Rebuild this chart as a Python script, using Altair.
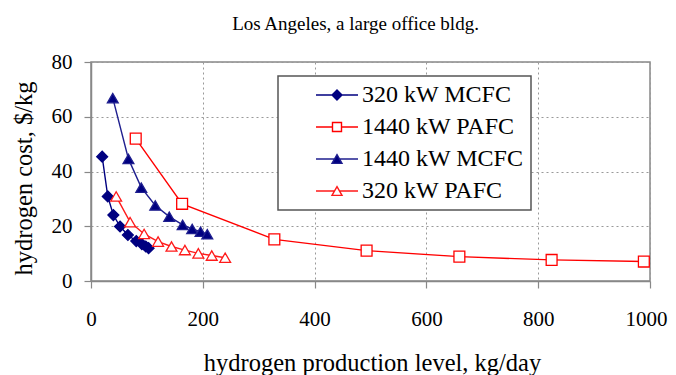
import altair as alt
import pandas as pd

series_names = ["320 kW MCFC", "1440 kW PAFC", "1440 kW MCFC", "320 kW PAFC"]

mcfc320_x = [20, 30, 40, 52, 66, 81, 91, 98, 103]
mcfc320_y = [45.4, 30.9, 24.1, 19.9, 16.8, 14.6, 13.5, 12.6, 12.0]

pafc1440_x = [80, 163, 328, 493, 659, 824, 989]
pafc1440_y = [52.0, 28.2, 15.2, 11.1, 8.9, 7.7, 7.1]

mcfc1440_x = [39, 67, 90, 115, 140, 164, 181, 196, 208]
mcfc1440_y = [66.8, 44.6, 34.1, 27.6, 23.5, 20.5, 19.0, 18.0, 17.1]

pafc320_x = [45, 70, 95, 120, 144, 168, 192, 216, 240]
pafc320_y = [30.9, 21.5, 17.2, 14.4, 12.6, 11.3, 10.1, 9.3, 8.5]

x_ticks = [0, 200, 400, 600, 800, 1000]
y_ticks = [0, 20, 40, 60, 80]

line_colors = ["#000080", "#ff0000", "#1f1f8f", "#ff1a1a"]
fill_colors = ["#000080", "#ffffff", "#000080", "#ffffff"]
shapes = ["diamond", "square", "triangle-up", "triangle-up"]
# legend symbols: a short line with the marker in its middle (unit = 10 px)
legend_paths = [
    "M1.9,0H3.5M4,-0.5L4.5,0L4,0.5L3.5,0ZM4.5,0H6.1",
    "M1.9,0H3.55M3.55,-0.45H4.45V0.45H3.55ZM4.45,0H6.1",
    "M1.9,0H3.75M4,-0.44L4.5,0.44H3.5ZM4.25,0H6.1",
    "M1.9,0H3.75M4,-0.44L4.5,0.44H3.5ZM4.25,0H6.1",
]

rows = []
for name, xs, ys in [
    (series_names[0], mcfc320_x, mcfc320_y),
    (series_names[1], pafc1440_x, pafc1440_y),
    (series_names[2], mcfc1440_x, mcfc1440_y),
    (series_names[3], pafc320_x, pafc320_y),
]:
    for xv, yv in zip(xs, ys):
        rows.append({"series": name, "lg": name, "x": xv, "y": yv})
df = pd.DataFrame(rows)

FONT = "Liberation Serif"

x_enc = alt.X(
    "x:Q",
    scale=alt.Scale(domain=[0, 1000], nice=False),
    axis=alt.Axis(
        values=x_ticks,
        format="d",
        labelFlush=False,
        labelOffset={"condition": {"test": "datum.value === 1000", "value": -4}, "value": 0},
        title="hydrogen production level, kg/day",
        titleX=281,
        titleY=89,
        titleBaseline="alphabetic",
        labelPadding=20,
    ),
)
y_enc = alt.Y(
    "y:Q",
    scale=alt.Scale(domain=[0, 80], nice=False),
    axis=alt.Axis(
        values=y_ticks,
        title="hydrogen cost, $/kg",
        titleX=-67,
        titleY=116,
        titleBaseline="middle",
        labelPadding=12,
        labelFlush=False,
    ),
)

lines = alt.Chart(df).mark_line(strokeWidth=1.4).encode(
    x=x_enc,
    y=y_enc,
    color=alt.Color("series:N", scale=alt.Scale(domain=series_names, range=line_colors), legend=None),
    detail="series:N",
)

points = alt.Chart(df).mark_point(filled=True, size=118, strokeWidth=1.3, opacity=1).encode(
    x=x_enc,
    y=y_enc,
    fill=alt.Fill("series:N", scale=alt.Scale(domain=series_names, range=fill_colors), legend=None),
    stroke=alt.Stroke("series:N", scale=alt.Scale(domain=series_names, range=line_colors), legend=None),
    shape=alt.Shape("series:N", scale=alt.Scale(domain=series_names, range=shapes), legend=None),
)

NB = "\u00a0" * 10
legend_def = alt.Legend(
    title=None,
    orient="none",
    legendX=187,
    legendY=14,
    symbolSize=400,
    symbolOpacity=1,
    labelOffset=53,
    labelLimit=0,
    labelExpr="datum.label + '" + NB + "'",
)

legend_layer = alt.Chart(df).mark_point(filled=True, size=400, strokeWidth=1.3, opacity=1).encode(
    fill=alt.Fill("lg:N", scale=alt.Scale(domain=series_names, range=fill_colors), legend=legend_def),
    stroke=alt.Stroke("lg:N", scale=alt.Scale(domain=series_names, range=line_colors), legend=legend_def),
    shape=alt.Shape("lg:N", scale=alt.Scale(domain=series_names, range=legend_paths), legend=legend_def),
).transform_filter("false")

chart = (
    alt.layer(lines, points, legend_layer)
    .resolve_scale(fill="independent", stroke="independent", shape="independent")
    .properties(
        width=559,
        height=219,
        autosize=alt.AutoSizeParams(type="none"),
        padding={"left": 83, "top": 54, "right": 18, "bottom": 95},
        title=alt.TitleParams(
            "Los Angeles, a large office bldg.",
            font=FONT,
            fontSize=19,
            fontWeight="normal",
            anchor="middle",
            dx=-15,
            offset=17,
            color="black",
        ),
    )
    .configure_view(stroke="#888888", strokeWidth=1.5)
    .configure_axis(
        labelFont=FONT,
        labelFontSize=21,
        labelColor="black",
        titleFont=FONT,
        titleFontSize=24.5,
        titleFontWeight="normal",
        titleColor="black",
        domainColor="#888888",
        domainWidth=1.5,
        tickColor="#888888",
        tickWidth=1.2,
        tickSize=7,
        grid=True,
        gridColor="#999999",
        gridDash=[2, 3],
        gridWidth=1,
    )
    .configure_legend(
        labelFont=FONT,
        labelFontSize=24,
        labelColor="black",
        fillColor="white",
        strokeColor="#555555",
        strokeWidth=1.5,
        padding=7,
        rowPadding=8,
        symbolStrokeWidth=1.4,
    )
)

chart.save("out.html", embed_options={"renderer": "svg", "actions": False})
